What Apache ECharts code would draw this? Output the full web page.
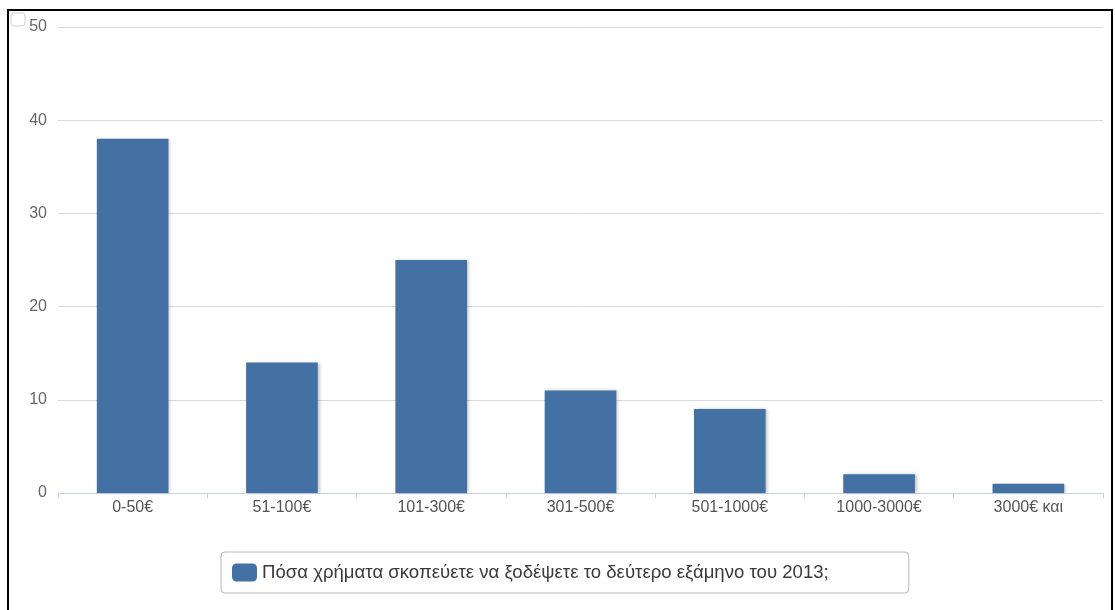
<!DOCTYPE html>
<html>
<head>
<meta charset="utf-8">
<script src="https://cdn.jsdelivr.net/npm/echarts@6/dist/echarts.min.js"></script>
<style>
  html, body { margin: 0; padding: 0; background: #fff; }
  #chart { width: 1115px; height: 610px; }
</style>
</head>
<body>
<div id="chart"></div>
<script>
const categories = ['0-50€', '51-100€', '101-300€', '301-500€', '501-1000€', '1000-3000€', '3000€ και'];
const answers = [38, 14, 25, 11, 9, 2, 1];
const seriesName = 'Πόσα χρήματα σκοπεύετε να ξοδέψετε το δεύτερο εξάμηνο του 2013;';
const yTicks = { min: 0, max: 50, interval: 10 };

const chart = echarts.init(document.getElementById('chart'), null, { renderer: 'canvas' });
const font = 'Liberation Sans, Arial, Helvetica, sans-serif';

chart.setOption({
  animation: false,
  backgroundColor: '#ffffff',
  textStyle: { fontFamily: font },
  grid: { left: 58, right: 12, top: 27, bottom: 117 },
  xAxis: {
    type: 'category',
    data: categories,
    axisLine: { lineStyle: { color: '#c3d1e0', width: 1 } },
    axisTick: { show: true, alignWithLabel: false, length: 5, lineStyle: { color: '#c3d1e0' } },
    axisLabel: { color: '#555', fontSize: 16, margin: 7, fontFamily: font }
  },
  yAxis: {
    type: 'value',
    min: yTicks.min,
    max: yTicks.max,
    interval: yTicks.interval,
    axisLine: { show: false },
    axisTick: { show: false },
    axisLabel: { color: '#666', fontSize: 16, margin: 11, fontFamily: font },
    splitLine: { lineStyle: { color: '#d9d9d9', width: 1 } }
  },
  legend: {
    data: [seriesName],
    left: 221,
    top: 552,
    orient: 'horizontal',
    itemWidth: 25,
    itemHeight: 18,
    itemGap: 10,
    padding: [11, 80, 11, 11],
    borderColor: '#b8b8b8',
    borderWidth: 1,
    borderRadius: 4,
    icon: 'roundRect',
    textStyle: { color: '#3a3a3a', fontSize: 18.6, fontFamily: font },
    selectedMode: false
  },
  series: [{
    name: seriesName,
    type: 'bar',
    data: answers,
    barWidth: '48%',
    itemStyle: {
      color: '#4471a4',
      shadowColor: 'rgba(0,0,0,0.22)',
      shadowBlur: 3,
      shadowOffsetX: 2,
      shadowOffsetY: 0
    }
  }],
  graphic: [
    {
      type: 'rect',
      shape: { x: 8, y: 10, width: 1104, height: 620 },
      style: { fill: 'none', stroke: '#000', lineWidth: 2 },
      silent: true
    },
    {
      type: 'rect',
      shape: { x: 11, y: 13, width: 14, height: 13, r: 3 },
      style: { fill: '#fff', stroke: '#cfcfcf', lineWidth: 1 },
      silent: true
    }
  ]
});
</script>
</body>
</html>
